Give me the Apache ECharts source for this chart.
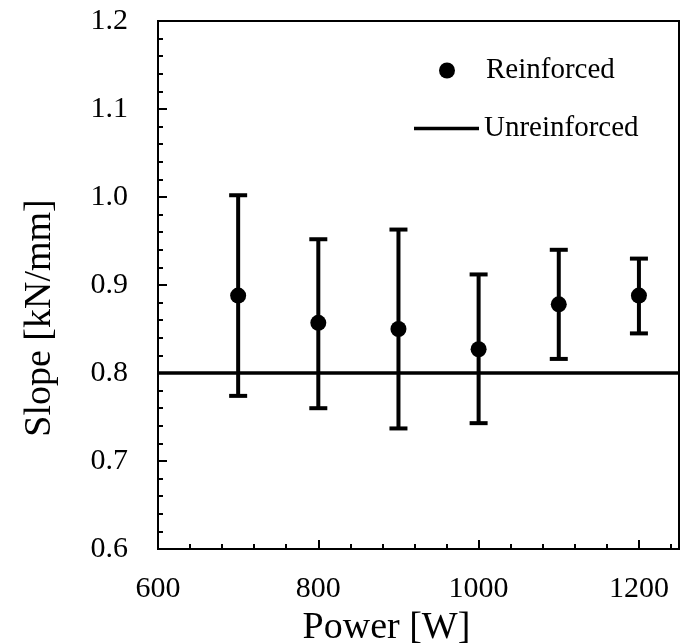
<!DOCTYPE html>
<html lang="en">

<head>
    <meta charset="UTF-8">
    <title>Slope vs Power</title>
    <script src="https://cdn.jsdelivr.net/npm/echarts@6/dist/echarts.min.js"></script>
</head>
<style>
    body { margin: 0; background: #fff; }
</style>

<body>
    <div id="box" style="width:684px;height:644px"></div>
</body>
<script>
    // data
    const power = [700, 800, 900, 1000, 1100, 1200];
    const slope = [0.888, 0.857, 0.850, 0.827, 0.878, 0.888];
    const slopeLow = [0.774, 0.760, 0.737, 0.743, 0.816, 0.845];
    const slopeHigh = [1.002, 0.952, 0.963, 0.912, 0.940, 0.930];
    const unreinforced = 0.8;
    const xRange = [600, 1250];

    const font = 'Liberation Serif';

    var myChart = echarts.init(document.getElementById('box'));

    var option = {
        animation: false,
        grid: {
            left: 158, right: 5, top: 21, bottom: 95,
            outerBoundsMode: 'none',
            containLabel: false,
            show: true, borderColor: '#000', borderWidth: 2
        },
        legend: [
            {
                data: ['Reinforced'],
                left: 439, top: 56,
                padding: 0,
                icon: 'circle',
                itemWidth: 68, itemHeight: 16,
                textStyle: { fontFamily: font, fontSize: 29, color: '#000' }
            },
            {
                data: ['Unreinforced'],
                left: 414, top: 114,
                padding: 0,
                icon: 'rect',
                itemWidth: 65, itemHeight: 3.5,
                textStyle: { fontFamily: font, fontSize: 29, color: '#000' }
            }
        ],
        xAxis: [
            {
                type: 'value',
                min: xRange[0], max: xRange[1], interval: 200,
                name: 'Power [W]',
                nameLocation: 'middle',
                nameGap: 50,
                nameTextStyle: { fontFamily: font, fontSize: 38, color: '#000', padding: [0, 64, 0, 0] },
                axisLine: { lineStyle: { color: '#000', width: 2 } },
                axisTick: { inside: true, length: 9, lineStyle: { color: '#000', width: 2 } },
                axisLabel: {
                    fontFamily: font, fontSize: 30, color: '#000', margin: 25, showMaxLabel: false,
                    formatter: function (v) { return String(v); }
                },
                splitLine: { show: false }
            },
            {
                // minor ticks every 40 W
                type: 'value',
                position: 'bottom',
                min: xRange[0], max: xRange[1], interval: 40,
                axisLine: { show: false },
                axisTick: { inside: true, length: 5, lineStyle: { color: '#000', width: 2 } },
                axisLabel: { show: false },
                splitLine: { show: false }
            }
        ],
        yAxis: {
            type: 'value',
            min: 0.6, max: 1.2, interval: 0.1,
            name: 'Slope [kN/mm]',
            nameLocation: 'middle',
            nameGap: 99,
            nameTextStyle: { fontFamily: font, fontSize: 38, color: '#000', padding: [0, 66, 0, 0] },
            axisLine: { lineStyle: { color: '#000', width: 2 } },
            axisTick: { inside: true, length: 9, lineStyle: { color: '#000', width: 2 } },
            minorTick: { show: true, splitNumber: 5, length: 5, lineStyle: { color: '#000', width: 2 } },
            axisLabel: {
                fontFamily: font, fontSize: 30, color: '#000', margin: 30,
                formatter: function (v) { return v.toFixed(1); }
            },
            splitLine: { show: false }
        },
        series: [
            {
                name: 'Unreinforced',
                type: 'line',
                data: [[xRange[0], unreinforced], [xRange[1], unreinforced]],
                showSymbol: false,
                itemStyle: { color: '#000' },
                lineStyle: { color: '#000', width: 3.5 },
                z: 3
            },
            {
                // error bars
                name: 'err',
                type: 'custom',
                data: power.map((p, i) => [p, slopeLow[i], slopeHigh[i]]),
                renderItem: function (params, api) {
                    var lo = api.coord([api.value(0), api.value(1)]);
                    var hi = api.coord([api.value(0), api.value(2)]);
                    var hw = 9;
                    var style = { stroke: '#000', lineWidth: 4 };
                    return {
                        type: 'group',
                        children: [
                            { type: 'line', shape: { x1: lo[0], y1: lo[1], x2: hi[0], y2: hi[1] }, style: style },
                            { type: 'line', shape: { x1: lo[0] - hw, y1: lo[1], x2: lo[0] + hw, y2: lo[1] }, style: style },
                            { type: 'line', shape: { x1: hi[0] - hw, y1: hi[1], x2: hi[0] + hw, y2: hi[1] }, style: style }
                        ]
                    };
                },
                z: 4
            },
            {
                name: 'Reinforced',
                type: 'scatter',
                data: power.map((p, i) => [p, slope[i]]),
                symbol: 'circle',
                symbolSize: 16,
                itemStyle: { color: '#000', opacity: 1 },
                z: 5
            }
        ]
    };

    myChart.setOption(option);
</script>

</html>
